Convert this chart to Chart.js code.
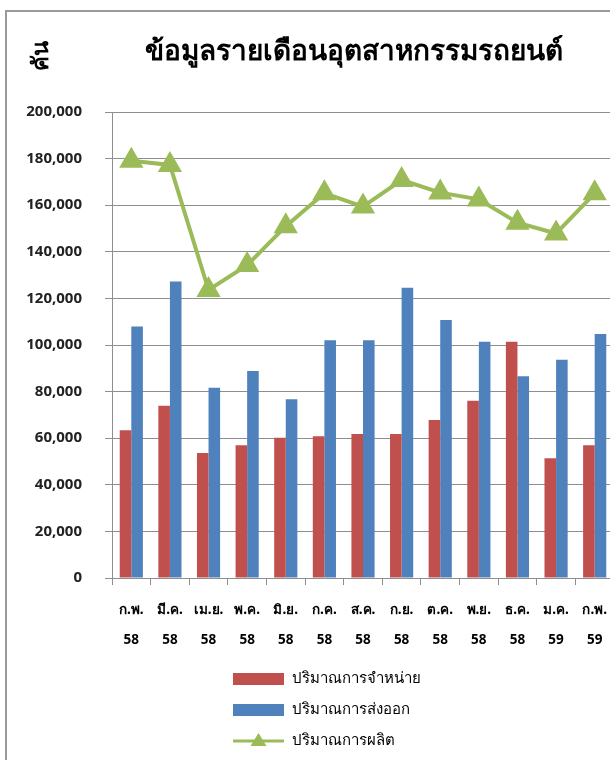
<!DOCTYPE html>
<html lang="th">
<head>
<meta charset="utf-8">
<title>ข้อมูลรายเดือนอุตสาหกรรมรถยนต์</title>
<script src="https://cdn.jsdelivr.net/npm/chart.js@4.4.1/dist/chart.umd.min.js"></script>
<style>
  html, body { margin: 0; padding: 0; background: #fff; overflow: hidden; }
  #frame {
    position: absolute; left: 5px; top: 10px;
    width: 720px; height: 800px;
    border: 2px solid #9a9a9a;
  }
  #wrap { position: absolute; left: 0; top: 0; width: 704px; height: 760px; }
</style>
</head>
<body>
<div id="frame"></div>
<div id="wrap"><canvas id="chart" width="704" height="760"></canvas></div>
<script>
// ── DATA ───────────────────────────────────────────────────────
const TITLE  = 'ข้อมูลรายเดือนอุตสาหกรรมรถยนต์';
const UNIT   = 'คัน';
const MONTHS = ['ก.พ.', 'มี.ค.', 'เม.ย.', 'พ.ค.', 'มิ.ย.', 'ก.ค.', 'ส.ค.', 'ก.ย.', 'ต.ค.', 'พ.ย.', 'ธ.ค.', 'ม.ค.', 'ก.พ.'];
const YEARS  = ['58', '58', '58', '58', '58', '58', '58', '58', '58', '58', '58', '59', '59'];

const SALES      = [63400, 73900, 53600, 57000, 60200, 60800, 61800, 61800, 67800, 76100, 101400, 51400, 57000];
const EXPORTS    = [107900, 127200, 81700, 88800, 76700, 102000, 102000, 124600, 110700, 101400, 86600, 93700, 104700];
const PRODUCTION = [179100, 177300, 123600, 134300, 151000, 165100, 159400, 170800, 165400, 162500, 152500, 147900, 165100];

const Y_TICKS = { min: 0, max: 200000, step: 20000 };

const FONT = "Tahoma, 'Noto Sans', 'DejaVu Sans', sans-serif";
const RED = '#C0504D', BLUE = '#4F81BD', GREEN = '#9BBB59', GRID = '#8e8e8e';

// ── PLUGINS ────────────────────────────────────────────────────
// ชื่อกราฟ + ชื่อแกน Y (หมุน 90°) วางตามตำแหน่งในต้นฉบับ
const headerPlugin = {
  id: 'header',
  afterDraw(chart) {
    const c = chart.ctx;
    c.save();
    c.fillStyle = '#000';
    c.textAlign = 'center';
    c.textBaseline = 'middle';
    c.font = 'bold 28px ' + FONT;
    c.fillText(TITLE, 354, 52);
    c.translate(42, 56);
    c.rotate(-Math.PI / 2);
    c.font = 'bold 22px ' + FONT;
    c.fillText(UNIT, 0, 0);
    c.restore();
  }
};

// legend แนวตั้งใต้กราฟ
const stackedLegend = {
  id: 'stackedLegend',
  afterDraw(chart) {
    const c = chart.ctx;
    const rows = [chart.data.datasets[1], chart.data.datasets[2], chart.data.datasets[0]];
    const x0 = 233, w = 51, tx = 292;
    const ys = [679, 710, 741];
    c.save();
    c.font = '15px ' + FONT;
    c.textBaseline = 'middle';
    rows.forEach((ds, i) => {
      const y = ys[i];
      if (ds.type === 'line') {
        c.strokeStyle = ds.borderColor;
        c.lineWidth = 3;
        c.beginPath(); c.moveTo(x0, y); c.lineTo(x0 + w, y); c.stroke();
        c.fillStyle = ds.borderColor;
        const cx = x0 + w / 2;
        c.beginPath(); c.moveTo(cx, y - 8); c.lineTo(cx + 8, y + 5); c.lineTo(cx - 8, y + 5); c.closePath(); c.fill();
      } else {
        c.fillStyle = ds.backgroundColor;
        c.fillRect(x0, y - 6, w, 12);
      }
      c.fillStyle = '#000';
      c.fillText(ds.label, tx, y);
    });
    c.restore();
  }
};

// ── CHART ──────────────────────────────────────────────────────
new Chart(document.getElementById('chart'), {
  type: 'bar',
  data: {
    labels: MONTHS.map((m, i) => [m, YEARS[i]]),
    datasets: [
      {
        type: 'line', label: 'ปริมาณการผลิต', data: PRODUCTION, order: 0,
        borderColor: GREEN, backgroundColor: GREEN, borderWidth: 4, tension: 0,
        pointStyle: 'triangle', pointRadius: 10, pointBackgroundColor: GREEN, pointBorderColor: GREEN,
      },
      { label: 'ปริมาณการจำหน่าย', data: SALES, backgroundColor: RED, order: 1,
        categoryPercentage: 0.6, barPercentage: 1.0 },
      { label: 'ปริมาณการส่งออก', data: EXPORTS, backgroundColor: BLUE, order: 2,
        categoryPercentage: 0.6, barPercentage: 1.0 },
    ],
  },
  options: {
    responsive: false,
    animation: false,
    layout: { padding: { left: 0, right: 90, top: 112, bottom: 0 } },
    plugins: {
      legend: { display: false },
      tooltip: { enabled: false },
      title: { display: false },
    },
    scales: {
      x: {
        offset: true,
        grid: { display: true, drawOnChartArea: false, drawTicks: true, tickLength: 7, color: GRID },
        border: { color: GRID },
        ticks: {
          color: '#000', autoSkip: false, maxRotation: 0, padding: 10,
          font: { family: FONT, size: 13.5, weight: 'bold', lineHeight: 2.25 },
        },
        afterFit: s => { s.height = 182; },
      },
      y: {
        min: Y_TICKS.min, max: Y_TICKS.max,
        grid: { color: GRID, tickLength: 7 },
        border: { color: GRID },
        ticks: {
          stepSize: Y_TICKS.step, color: '#222', padding: 23,
          font: { family: FONT, size: 15, weight: 'bold' },
          callback: v => v.toLocaleString('en-US'),
        },
        afterFit: s => { s.width = 112; },
      },
    },
  },
  plugins: [headerPlugin, stackedLegend],
});
</script>
</body>
</html>
